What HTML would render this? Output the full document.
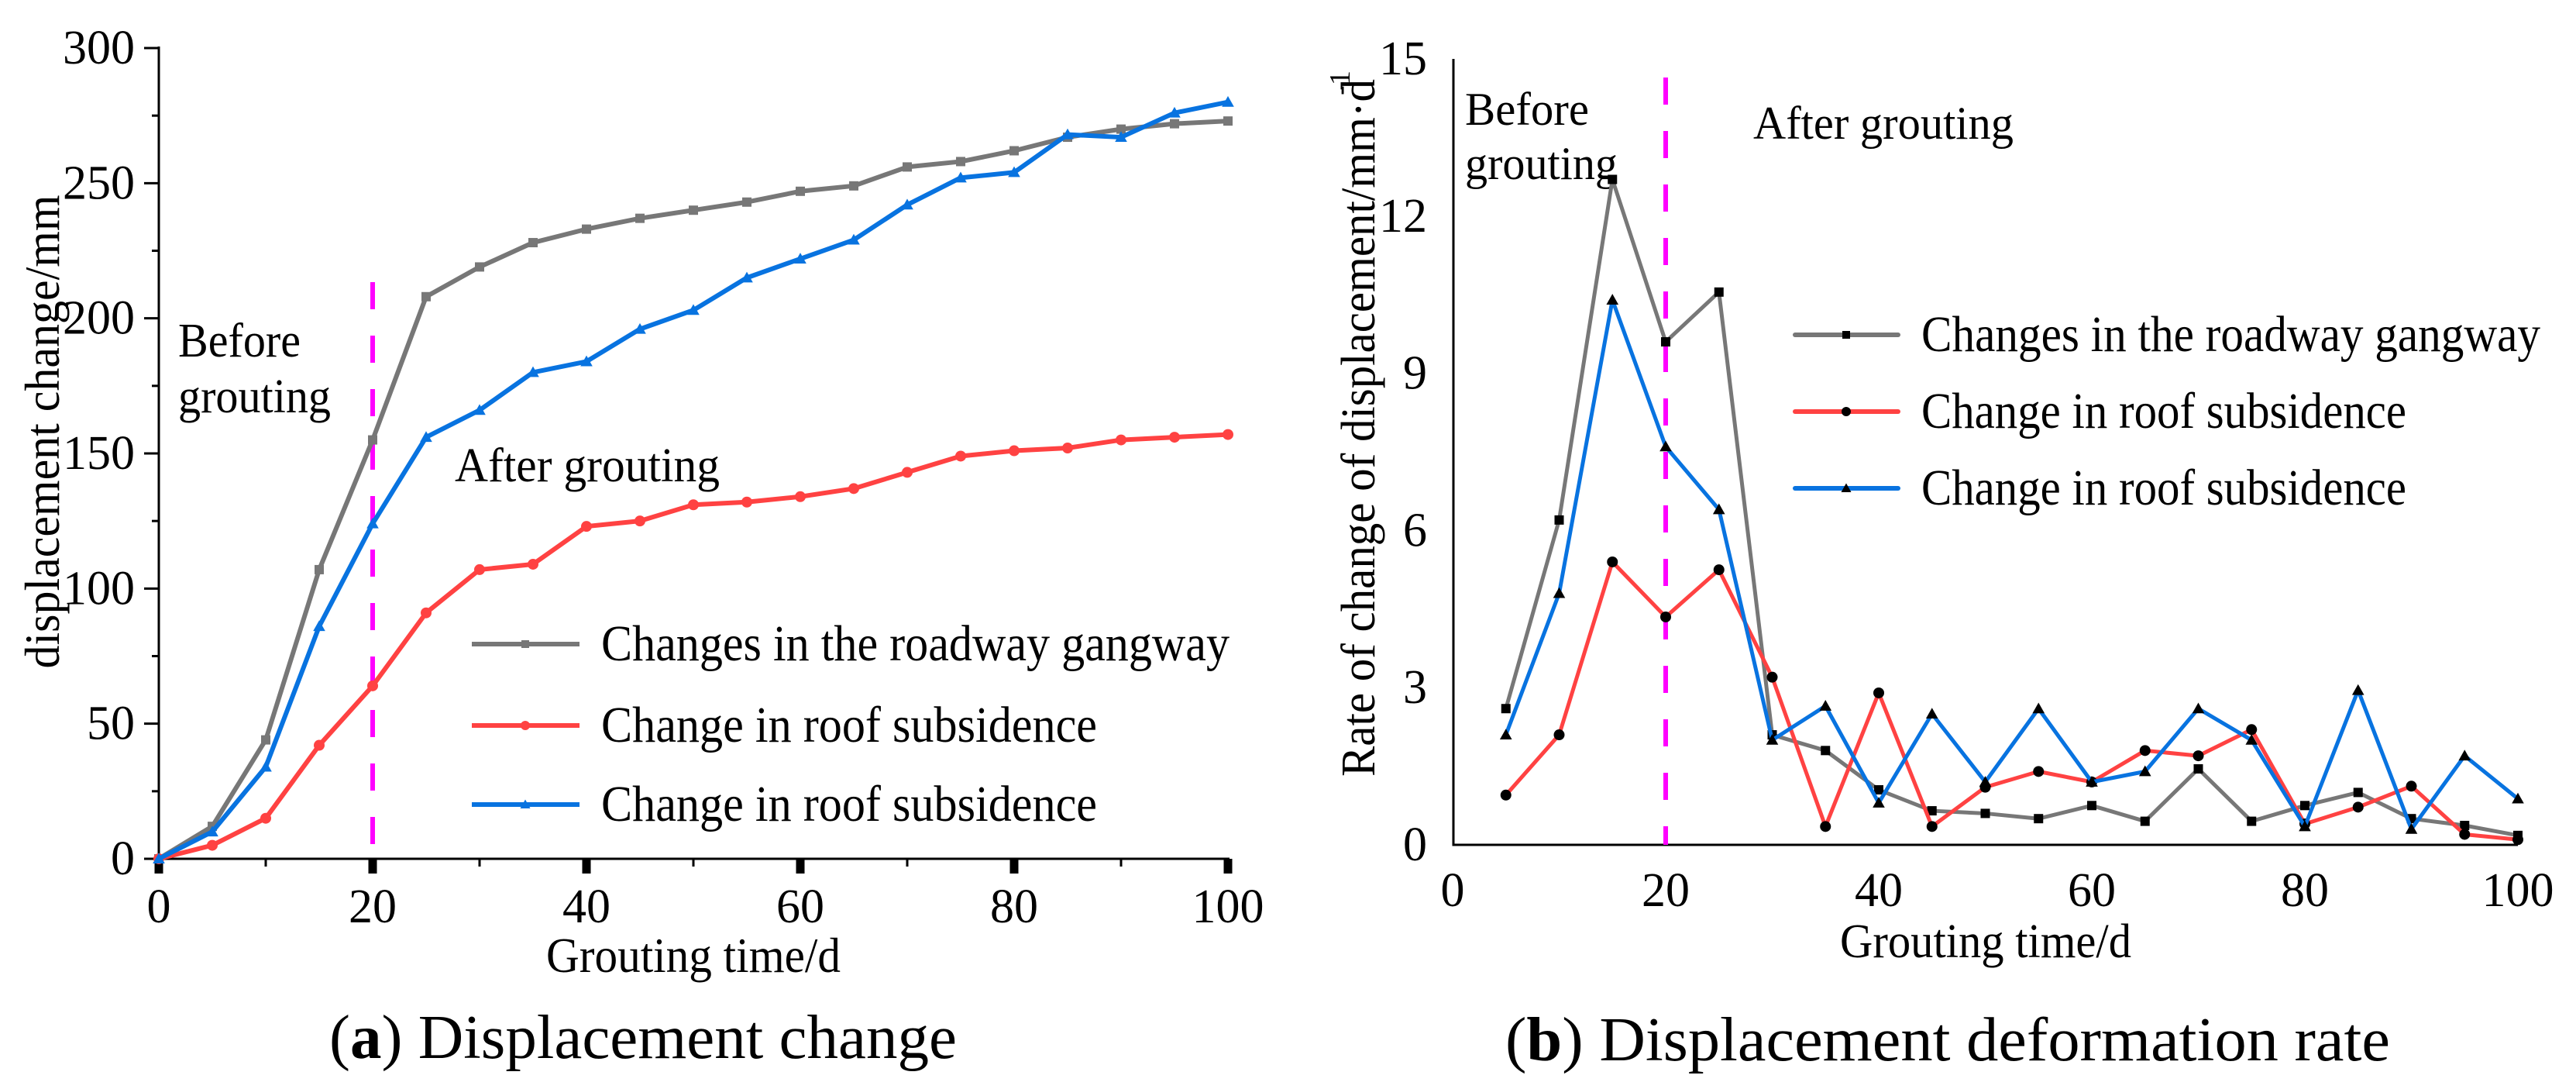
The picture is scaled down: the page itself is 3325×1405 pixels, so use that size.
<!DOCTYPE html>
<html><head><meta charset="utf-8"><style>
html,body{margin:0;padding:0;background:#fff;}
svg{display:block;}
text{font-family:"Liberation Serif",serif;fill:#000;}
</style></head><body>
<svg id="fig" width="3325" height="1405" viewBox="0 0 3325 1405" xmlns="http://www.w3.org/2000/svg">
<g id="chartA"></g>
<g id="chartB"></g>
</svg>
<script>
const xDays = [0,5,10,15,20,25,30,35,40,45,50,55,60,65,70,75,80,85,90,95,100];
const aGangway = [0,12,44,107,155,208,219,228,233,237,240,243,247,249,256,258,262,267,270,272,273];
const aRoofRed = [0,5,15,42,64,91,107,109,123,125,131,132,134,137,143,149,151,152,155,156,157];
const aRoofBlue = [0,10,34,86,124,156,166,180,184,196,203,215,222,229,242,252,254,268,267,276,280];
const aYTicks = [0,50,100,150,200,250,300];
const xTicks = [0,20,40,60,80,100];
const bDays = [5,10,15,20,25,30,35,40,45,50,55,60,65,70,75,80,85,90,95,100];
const bGangway = [2.6,6.2,12.7,9.6,10.55,2.1,1.8,1.05,0.65,0.6,0.5,0.75,0.45,1.45,0.45,0.75,1.0,0.5,0.37,0.18];
const bRoofRed = [0.95,2.1,5.4,4.35,5.25,3.2,0.35,2.9,0.35,1.1,1.4,1.2,1.8,1.7,2.2,0.4,0.72,1.12,0.2,0.1];
const bRoofBlue = [2.1,4.8,10.4,7.6,6.4,2.0,2.65,0.8,2.5,1.2,2.6,1.2,1.4,2.6,2.0,0.35,2.95,0.3,1.7,0.88];
const bYTicks = [0,3,6,9,12,15];
const legendLabels = ["Changes in the roadway gangway","Change in roof subsidence","Change in roof subsidence"];

const NS="http://www.w3.org/2000/svg";
function mk(parent,tag,attrs,txt){const e=document.createElementNS(NS,tag);for(const k in attrs)e.setAttribute(k,attrs[k]);if(txt!==undefined)e.textContent=txt;parent.appendChild(e);return e;}
const GRAY="#777777",RED="#ff4242",BLUE="#0873e0",MAG="#ff00ff";

function marker(g,type,cx,cy,s,color){
  let m;
  if(type==='sq') m=mk(g,'rect',{x:cx-s/2,y:cy-s/2,width:s,height:s,fill:color});
  else if(type==='ci') m=mk(g,'circle',{cx:cx,cy:cy,r:s/2+1,fill:color});
  else m=mk(g,'polygon',{points:`${cx},${cy-s*0.65} ${cx-s*0.65},${cy+s*0.5} ${cx+s*0.65},${cy+s*0.5}`,fill:color});
  return m;
}

/* ---------- Chart A ---------- */
(function(){
  const g=document.getElementById('chartA');
  const X=v=>205+v*(1585-205)/100, Y=v=>1108-v*(1108-62)/300;
  let e=mk(g,'line',{x1:205,y1:60,x2:205,y2:1110,stroke:'#000','stroke-width':3});
  
  e=mk(g,'line',{x1:186,y1:1108,x2:1587,y2:1108,stroke:'#000','stroke-width':3});
  
  for(let v=0;v<=300;v+=25){const major=v%50===0;mk(g,'line',{x1:major?186:196,y1:Y(v),x2:205,y2:Y(v),stroke:'#000','stroke-width':3});}
  aYTicks.forEach(v=>{const t=mk(g,'text',{x:174,y:Y(v)+20,'font-size':62,'text-anchor':'end'},String(v));
    });
  for(let v=10;v<100;v+=20){mk(g,'line',{x1:X(v),y1:1108,x2:X(v),y2:1118,stroke:'#000','stroke-width':3});}
  xTicks.forEach(v=>{mk(g,'rect',{x:X(v)-5.5,y:1108,width:11,height:19,fill:'#000'});
    const t=mk(g,'text',{x:X(v),y:1190,'font-size':62,'text-anchor':'middle'},String(v));
    });
  let t=mk(g,'text',{x:895,y:1254,'font-size':64,'text-anchor':'middle',textLength:380,lengthAdjust:'spacingAndGlyphs'},'Grouting time/d');
  
  t=mk(g,'text',{x:0,y:0,'font-size':64,'text-anchor':'middle',transform:'translate(76,557) rotate(-90)',textLength:611,lengthAdjust:'spacingAndGlyphs'},'displacement change/mm');
  
  e=mk(g,'line',{x1:X(20),y1:364,x2:X(20),y2:1106,stroke:MAG,'stroke-width':6,'stroke-dasharray':'35 34'});
  
  t=mk(g,'text',{x:230,y:460,'font-size':62,textLength:158,lengthAdjust:'spacingAndGlyphs'},'Before');
  
  t=mk(g,'text',{x:230,y:532,'font-size':62,textLength:197,lengthAdjust:'spacingAndGlyphs'},'grouting');
  
  t=mk(g,'text',{x:587,y:621,'font-size':62,textLength:342,lengthAdjust:'spacingAndGlyphs'},'After grouting');
  
  const series=[[aGangway,GRAY,'sq','series-gangway'],[aRoofRed,RED,'ci','series-roof-red'],[aRoofBlue,BLUE,'tr','series-roof-blue']];
  series.forEach(([d,c,m,n])=>{
    const s=mk(g,'g',{});
    mk(s,'polyline',{points:d.map((v,i)=>X(xDays[i])+','+Y(v)).join(' '),fill:'none',stroke:c,'stroke-width':6,'stroke-linejoin':'round'});
    d.forEach((v,i)=>{const p=marker(s,m,X(xDays[i]),Y(v),12,c);});
  });
  const rows=[831,936,1038];
  series.forEach(([d,c,m,n],i)=>{
    const lg=mk(g,'g',{});
    mk(lg,'line',{x1:609,y1:rows[i],x2:748,y2:rows[i],stroke:c,'stroke-width':6});
    marker(lg,m,678,rows[i],10,c);
    mk(lg,'text',{x:776,y:rows[i]+21,'font-size':66,textLength:i===0?811:640,lengthAdjust:'spacingAndGlyphs'},legendLabels[i]);
  });
  t=mk(g,'text',{x:425,y:1365,'font-size':80,textLength:810,lengthAdjust:'spacingAndGlyphs'},'');
  
  mk(t,'tspan',{},'(');mk(t,'tspan',{'font-weight':'bold'},'a');mk(t,'tspan',{},') Displacement change');
})();

/* ---------- Chart B ---------- */
(function(){
  const g=document.getElementById('chartB');
  const X=v=>1875+v*(3250-1875)/100, Y=v=>1090-v*(1090-76)/15;
  let e=mk(g,'line',{x1:1876,y1:76,x2:1876,y2:1091.5,stroke:'#000','stroke-width':3});
  
  e=mk(g,'line',{x1:1874.5,y1:1090,x2:3250,y2:1090,stroke:'#000','stroke-width':3});
  
  bYTicks.forEach(v=>{const t=mk(g,'text',{x:1842,y:Y(v)+20,'font-size':62,'text-anchor':'end'},String(v));
    });
  xTicks.forEach(v=>{const t=mk(g,'text',{x:X(v),y:1169,'font-size':62,'text-anchor':'middle'},String(v));
    });
  let t=mk(g,'text',{x:2563,y:1235,'font-size':62,'text-anchor':'middle',textLength:376,lengthAdjust:'spacingAndGlyphs'},'Grouting time/d');
  
  t=mk(g,'text',{x:0,y:0,'font-size':62,'text-anchor':'middle',transform:'translate(1774,552) rotate(-90)',textLength:900,lengthAdjust:'spacingAndGlyphs'},'Rate of change of displacement/mm·d');
  
  t=mk(g,'text',{x:0,y:0,'font-size':38,'text-anchor':'middle',transform:'translate(1742,107) rotate(-90)'},'-1');
  
  e=mk(g,'line',{x1:X(20),y1:100,x2:X(20),y2:1090,stroke:MAG,'stroke-width':6,'stroke-dasharray':'35 34'});
  
  t=mk(g,'text',{x:1891,y:161,'font-size':60,textLength:160,lengthAdjust:'spacingAndGlyphs'},'Before');
  
  t=mk(g,'text',{x:1891,y:231,'font-size':60,textLength:197,lengthAdjust:'spacingAndGlyphs'},'grouting');
  
  t=mk(g,'text',{x:2263,y:179,'font-size':60,textLength:336,lengthAdjust:'spacingAndGlyphs'},'After grouting');
  
  const series=[[bGangway,GRAY,'sq','series-gangway'],[bRoofRed,RED,'ci','series-roof-red'],[bRoofBlue,BLUE,'tr','series-roof-blue']];
  series.forEach(([d,c,m,n])=>{
    const s=mk(g,'g',{});
    mk(s,'polyline',{points:d.map((v,i)=>X(bDays[i])+','+Y(v)).join(' '),fill:'none',stroke:c,'stroke-width':5,'stroke-linejoin':'round'});
    d.forEach((v,i)=>{const p=marker(s,m,X(bDays[i]),Y(v),12,'#000');});
  });
  const rows=[432,531,630];
  series.forEach(([d,c,m,n],i)=>{
    const lg=mk(g,'g',{});
    mk(lg,'line',{x1:2317,y1:rows[i],x2:2450,y2:rows[i],stroke:c,'stroke-width':6,'stroke-linecap':'round'});
    marker(lg,m,2383,rows[i],10,'#000');
    mk(lg,'text',{x:2480,y:rows[i]+21,'font-size':66,textLength:i===0?799:626,lengthAdjust:'spacingAndGlyphs'},legendLabels[i]);
  });
  t=mk(g,'text',{x:1943,y:1368,'font-size':80,textLength:1142,lengthAdjust:'spacingAndGlyphs'},'');
  
  mk(t,'tspan',{},'(');mk(t,'tspan',{'font-weight':'bold'},'b');mk(t,'tspan',{},') Displacement deformation rate');
})();
</script>
</body></html>
